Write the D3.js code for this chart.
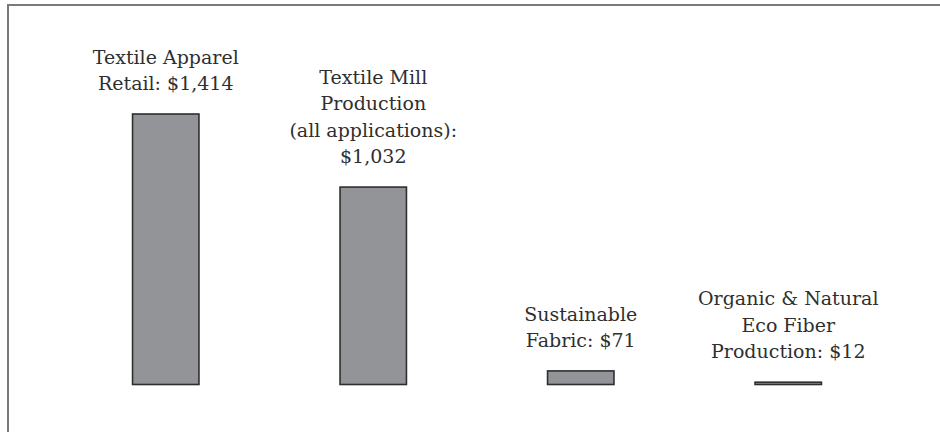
<!DOCTYPE html>
<html>
<head>
<meta charset="utf-8">
<script src="https://cdn.jsdelivr.net/npm/d3@7"></script>
<style>
  html, body { margin: 0; padding: 0; background: #ffffff; }
  svg { display: block; }
</style>
</head>
<body>
<svg id="chart" width="940" height="432"></svg>
<script>
// Market segments (values in billions of US dollars)
const categories = [
  "Textile Apparel Retail",
  "Textile Mill Production",
  "Sustainable Fabric",
  "Organic & Natural Eco Fiber Production"
];
const values = [1414, 1032, 71, 12];
// Label lines drawn above each bar; the value is appended to the last line
const labelLines = [
  ["Textile Apparel", "Retail: "],
  ["Textile Mill", "Production", "(all applications):", ""],
  ["Sustainable", "Fabric: "],
  ["Organic & Natural", "Eco Fiber", "Production: "]
];

const fmt = d3.format("$,");
const svg = d3.select("#chart");

// Frame around the chart area
svg.append("rect")
  .attr("x", 8).attr("y", 5)
  .attr("width", 980).attr("height", 480)
  .attr("fill", "none")
  .attr("stroke", "#7a7a7a")
  .attr("stroke-width", 2);

const x = d3.scaleBand()
  .domain(categories)
  .range([62, 892])
  .paddingInner(0.68)
  .paddingOuter(0.34);

const y = d3.scaleLinear()
  .domain([0, d3.max(values)])
  .range([384.5, 114]);

const data = categories.map((c, i) => ({ cat: c, value: values[i], lines: labelLines[i] }));

svg.append("g").selectAll("rect")
  .data(data)
  .join("rect")
  .attr("x", d => x(d.cat))
  .attr("y", d => y(d.value))
  .attr("width", x.bandwidth())
  .attr("height", d => y(0) - y(d.value))
  .attr("fill", "#939498")
  .attr("stroke", "#2e2e2e")
  .attr("stroke-width", 1.6);

const lineH = 26.4;
const labels = svg.append("g").selectAll("text")
  .data(data)
  .join("text")
  .attr("text-anchor", "middle")
  .attr("font-family", "'DejaVu Serif', serif")
  .attr("font-size", 19)
  .attr("fill", "#2f2f2f")
  .attr("transform", d => {
    const lastBaseline = y(d.value) - 24;
    const firstBaseline = lastBaseline - (d.lines.length - 1) * lineH;
    return `translate(${x(d.cat) + x.bandwidth() / 2},${firstBaseline})`;
  });

labels.selectAll("tspan")
  .data(d => d.lines.map((t, i) => i === d.lines.length - 1 ? t + fmt(d.value) : t))
  .join("tspan")
  .attr("x", 0)
  .attr("dy", (t, i) => i === 0 ? 0 : lineH)
  .text(t => t);
</script>
</body>
</html>
